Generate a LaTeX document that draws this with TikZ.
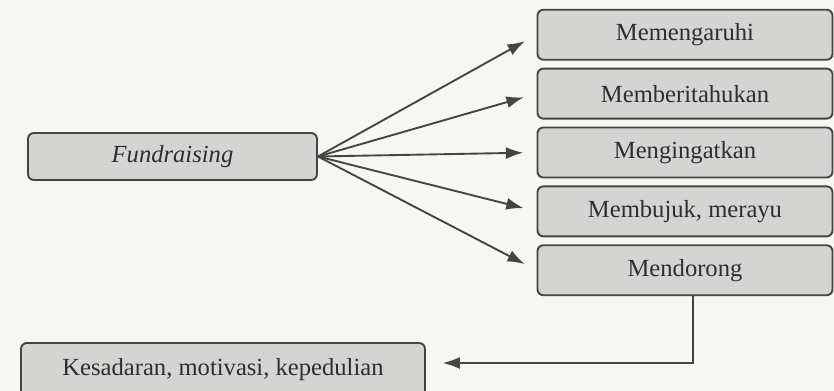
\documentclass[tikz,border=0pt]{standalone}
\usepackage{fontspec}
\setmainfont{Liberation Serif}
\usepackage{tikz}
\usetikzlibrary{matrix,positioning,arrows.meta}

\definecolor{paper}{RGB}{246,246,243}
\definecolor{boxfill}{RGB}{212,212,210}
\definecolor{boxline}{RGB}{68,68,68}

\tikzset{
  box/.style={draw=boxline, fill=boxfill, line width=0.8pt, rounded corners=2.5pt,
    shape=rectangle, text=black!82, font=\fontsize{10.5}{12}\selectfont},
  link/.style={->, draw=boxline, line width=0.8pt, shorten >=0.2cm}
}

\begin{document}
\begin{tikzpicture}[x=0.015cm, y=-0.015cm, >={Latex[length=2.6mm,width=1.8mm]},
    every text node part/.style={align=center}]
  \fill[paper] (0,0) rectangle (834,391);
  \useasboundingbox (0,0) rectangle (834,391);
  \matrix (act) at (685,152.5) [row sep=0.105cm,
    nodes={box, minimum width=4.425cm, minimum height=0.75cm}]{
  \node (infl) {Memengaruhi}; \\
  \node (info) {Memberitahukan}; \\
  \node (remind) {Mengingatkan}; \\
  \node (persuade) {Membujuk, merayu}; \\
  \node (push) {Mendorong}; \\};
  \node (fund) [box, minimum width=4.335cm, minimum height=0.705cm] at (172.5,156.5) {\textit{Fundraising}};
  \node (aware) [box, minimum width=6.06cm, minimum height=0.81cm] at (223,370) {Kesadaran, motivasi, kepedulian};
  \draw[link] (fund.east) -- (infl.west);
\draw[link] (fund.east) -- (info.west);
\draw[link] (fund.east) -- (remind.west);
\draw[link] (fund.east) -- (persuade.west);
\draw[link] (fund.east) -- (push.west);
\draw[link, shorten >=0.25cm] ([xshift=0.12cm]push.south) |- ([yshift=0.105cm]aware.east);
\end{tikzpicture}
\end{document}
